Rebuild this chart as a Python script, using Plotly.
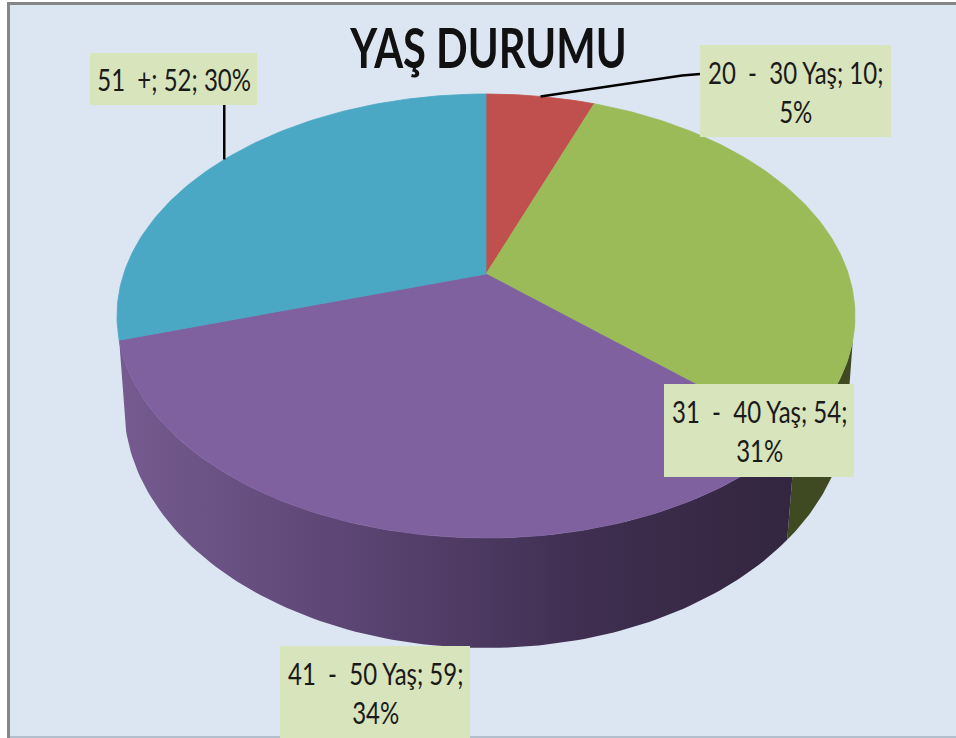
import numpy as np
import plotly.graph_objects as go

# ---- data ----
categories = ["20  -  30 Yaş", "31  -  40 Yaş", "41  -  50 Yaş", "51  +"]
values = [10, 54, 59, 52]
percents = [5, 31, 34, 30]
title_text = "YAŞ DURUMU"
wedge_colors = ["#c0504d", "#9bbb59", "#7f619f", "#4aa8c4"]

# ---- geometry of the perspective pie (page pixels) ----
CX, TOP_CY, TOP_A, TOP_B = 486, 316, 369, 222
BOT_CY, BOT_A, BOT_B = 405, 362, 243
K = 42 / 222  # offset of the pie centre inside the projected ellipse
SEAM_SHIFT = 0.013  # the wall seam leans slightly inwards, perspective


def disc_to_norm(deg):
    """Clockwise-from-top pie angle -> normalised position on the tilted ellipse."""
    t = np.radians(deg)
    x, y = np.sin(t), np.cos(t)
    d = 1 + K * y
    return x * np.sqrt(1 - K * K) / d, (y + K) / d


def top_xy(u, v):
    return CX + TOP_A * u, TOP_CY - TOP_B * v


def bot_xy(u, v):
    return CX + BOT_A * u, BOT_CY - BOT_B * v


total = sum(values)
edges = np.cumsum([0] + values) / total * 360
apex = top_xy(0, K)

fig = go.Figure()

# side walls
seam_u, seam_v = disc_to_norm(edges[2])
left_u, left_v = disc_to_norm(edges[3])
seam_phi = np.arctan2(seam_v, seam_u)
tip_phi = np.arctan2(left_v, -left_u)

# green wall: from the seam round to the right tip
phi = np.linspace(seam_phi, tip_phi, 50)
xt, yt = top_xy(np.cos(phi), np.sin(phi))
phib = np.linspace(0, seam_phi - SEAM_SHIFT, 50)
xb, yb = bot_xy(np.cos(phib), np.sin(phib))
fig.add_trace(go.Scatter(x=list(xt) + list(xb), y=list(yt) + list(yb), mode="lines",
                         fill="toself", fillcolor="#3f4a22", line=dict(width=0),
                         hoverinfo="skip"))

# purple wall: gradient from left to right
angs = np.linspace(edges[2], edges[3], 120)
u, v = disc_to_norm(angs)
xt, yt = top_xy(u, v)
phib = np.linspace(np.pi, seam_phi - SEAM_SHIFT + 2 * np.pi, 120)
xb, yb = bot_xy(np.cos(phib), np.sin(phib))
fig.add_trace(go.Scatter(x=list(xt) + list(xb), y=list(yt) + list(yb), mode="lines",
                         fill="toself", line=dict(width=0), hoverinfo="skip",
                         fillgradient=dict(type="horizontal",
                                           colorscale=[[0, "#755b8f"], [0.3, "#5f4878"],
                                                       [0.7, "#3f2e50"], [1, "#33263f"]],
                                           start=120, stop=790)))

# top face wedges
for i, col in enumerate(wedge_colors):
    angs = np.linspace(edges[i], edges[i + 1], 120)
    u, v = disc_to_norm(angs)
    xt, yt = top_xy(u, v)
    fig.add_trace(go.Scatter(x=[apex[0]] + list(xt) + [apex[0]],
                             y=[apex[1]] + list(yt) + [apex[1]],
                             mode="lines", fill="toself", fillcolor=col,
                             line=dict(width=0.8, color=col), hoverinfo="skip"))

# leader lines, anchored at the wedge midpoints
m0 = top_xy(*disc_to_norm((edges[0] + edges[1]) / 2))
m3 = top_xy(*disc_to_norm((edges[3] + edges[4]) / 2))
fig.add_trace(go.Scatter(x=[m0[0], 665, 682, 700], y=[m0[1], 78, 75.5, 74], mode="lines",
                         line=dict(color="#000000", width=2.5), hoverinfo="skip"))
fig.add_trace(go.Scatter(x=[m3[0], m3[0]], y=[m3[1], 105], mode="lines",
                         line=dict(color="#000000", width=2.5), hoverinfo="skip"))

shapes = [dict(type="rect", xref="paper", yref="paper", x0=0, x1=1, y0=0, y1=1,
               fillcolor="#ffffff", line=dict(width=0), layer="below"),
          dict(type="rect", xref="x", yref="y", x0=8, x1=956, y0=3, y1=738,
               fillcolor="#dce6f2", line=dict(width=0), layer="below"),
          dict(type="line", xref="x", yref="y", x0=8.5, x1=956, y0=3.5, y1=3.5,
               line=dict(color="#868686", width=3), layer="below"),
          dict(type="line", xref="x", yref="y", x0=8.5, x1=8.5, y0=2, y1=738,
               line=dict(color="#868686", width=3), layer="below"),
          dict(type="line", xref="x", yref="y", x0=10, x1=956, y0=737, y1=737,
               line=dict(color="#b4bfce", width=2), layer="below")]

boxes = [(700, 45, 191, 92), (664, 384, 190, 93), (280, 646, 190, 92), (90, 53, 167, 52)]
annotations = [dict(x=488, y=46, xref="x", yref="y", text=f"<b>{title_text}</b>", showarrow=False,
                    font=dict(family="Lato", size=56, color="#111111"))]
for cat, val, pct, (bx, by, bw, bh) in zip(categories, values, percents, boxes):
    shapes.append(dict(type="rect", xref="x", yref="y", x0=bx, x1=bx + bw, y0=by, y1=by + bh,
                       fillcolor="#d8e4bc", line=dict(width=0), layer="above"))
    txt = f"{cat}; {val};<br>{pct}%" if bh > 60 else f"{cat}; {val}; {pct}%"
    annotations.append(dict(x=bx + bw / 2, y=by + bh / 2, xref="x", yref="y", text=txt,
                            showarrow=False, align="center",
                            font=dict(family="Lato", size=30, color="#1a1a1a")))

fig.update_layout(width=956, height=738, margin=dict(l=0, r=0, t=0, b=0), showlegend=False,
                  paper_bgcolor="#ffffff", plot_bgcolor="rgba(0,0,0,0)",
                  xaxis=dict(range=[0, 956], visible=False, fixedrange=True),
                  yaxis=dict(range=[738, 0], visible=False, fixedrange=True),
                  shapes=shapes, annotations=annotations)

# the reference type is a condensed face: narrow the installed Lato horizontally
condense = """
document.body.style.margin='0';
document.documentElement.style.overflow='hidden';
(function(){
  var gd=document.getElementById('{plot_id}');
  function apply(){
    gd.querySelectorAll('.annotation-text').forEach(function(t,i){
      var b=t.getBBox(), cx=b.x+b.width/2;
      var sx=(t.textContent.indexOf('DURUMU')>=0)?0.745:0.8;
      t.setAttribute('transform','translate('+cx+' 0) scale('+sx+' 1) translate('+(-cx)+' 0)');
    });
  }
  apply();
  if(gd.on){gd.on('plotly_afterplot',apply);}
  setTimeout(apply,0);setTimeout(apply,60);setTimeout(apply,300);
})();
"""
fig.write_html("out.html", config=dict(displayModeBar=False), post_script=condense)
